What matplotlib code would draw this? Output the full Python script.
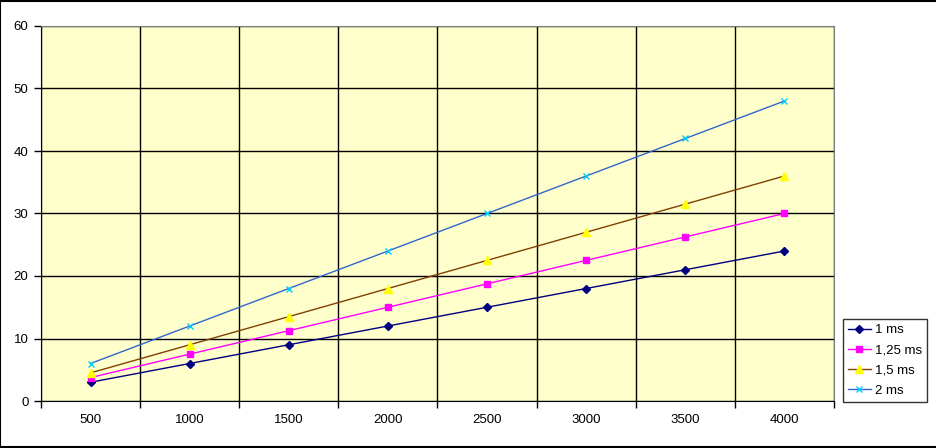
import numpy as np
import matplotlib.pyplot as plt
from matplotlib.patches import Rectangle

plt.rcParams['font.family'] = ['Liberation Sans', 'DejaVu Sans']

rpm = [500, 1000, 1500, 2000, 2500, 3000, 3500, 4000]
s_1ms = [3, 6, 9, 12, 15, 18, 21, 24]
s_125ms = [3.75, 7.5, 11.25, 15, 18.75, 22.5, 26.25, 30]
s_15ms = [4.5, 9, 13.5, 18, 22.5, 27, 31.5, 36]
s_2ms = [6, 12, 18, 24, 30, 36, 42, 48]
labels = ['1 ms', '1,25 ms', '1,5 ms', '2 ms']

fig = plt.figure(figsize=(9.37, 4.48), dpi=100)
# outer chart border
fig.patches.append(Rectangle((0.0005, 0.003), 1.2, 0.994, transform=fig.transFigure,
                             fill=False, edgecolor='black', linewidth=1.5))
ax = fig.add_axes([41/937, 47/448, (834-41)/937, (401-26)/448])
ax.set_facecolor('#FFFFCC')

x = np.arange(1, len(rpm) + 1)
ax.plot(x, s_1ms, color='#000080', marker='D', markersize=4, lw=1, label=labels[0])
ax.plot(x, s_125ms, color='#FF00FF', marker='s', markersize=5, lw=1, label=labels[1])
ax.plot(x, s_15ms, color='#804000', marker='^', markersize=6, markerfacecolor='#FFFF00',
        markeredgecolor='#FFFF00', lw=1, label=labels[2])
ax.plot(x, s_2ms, color='#3366CC', marker='x', markersize=5, markeredgecolor='#00CCFF',
        lw=1, label=labels[3])

ax.set_xlim(0.5, len(rpm) + 0.5)
ax.set_ylim(0, 60)
ax.set_yticks(range(0, 61, 10))
ax.set_xticks(x)
ax.set_xticklabels([str(r) for r in rpm])
ax.set_xticks(np.arange(0.5, len(rpm) + 1), minor=True)
ax.tick_params(axis='x', which='major', length=0, pad=9, labelsize=9.5)
ax.tick_params(axis='x', which='minor', length=5, direction='out', width=1)
ax.tick_params(axis='y', length=5, direction='out', width=1, pad=4, labelsize=9.5)
ax.grid(True, axis='y', which='major', color='black', lw=1)
ax.grid(True, axis='x', which='minor', color='black', lw=1)
ax.set_axisbelow(True)
for s in ['top', 'right']:
    ax.spines[s].set_color('#808080')
for s in ['left', 'bottom']:
    ax.spines[s].set_color('black')

leg = fig.legend(loc='lower left', bbox_to_anchor=(843/937, 46/448), frameon=True,
                 fancybox=False, edgecolor='black', fontsize=9.5, handlelength=1.7,
                 borderpad=0.4, labelspacing=0.6, handletextpad=0.3, borderaxespad=0)
leg.get_frame().set_linewidth(1)

fig.savefig('out.png', dpi=100)
